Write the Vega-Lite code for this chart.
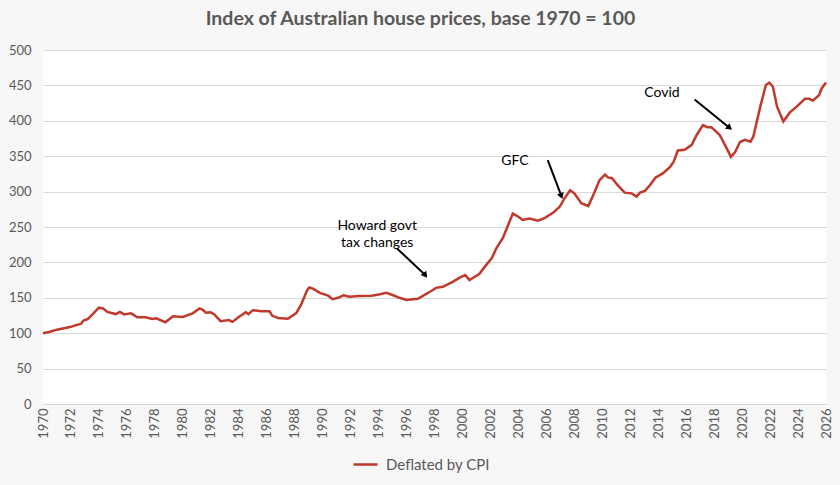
{
  "$schema": "https://vega.github.io/schema/vega-lite/v6.json",
  "autosize": "none",
  "width": 783,
  "height": 354,
  "padding": {"left": 43, "top": 50, "right": 14, "bottom": 81},
  "background": "#f7f7f7",
  "title": {
    "text": "Index of Australian house prices, base 1970 = 100",
    "font": "Lato",
    "fontSize": 19.5,
    "fontWeight": "bold",
    "color": "#595959",
    "anchor": "middle",
    "dx": -14,
    "offset": 15
  },
  "datasets": {
    "prices": [
      {"year": 1970.0, "index": 100, "series": "Deflated by CPI"},
      {"year": 1970.5, "index": 102, "series": "Deflated by CPI"},
      {"year": 1971.0, "index": 105, "series": "Deflated by CPI"},
      {"year": 1971.5, "index": 107, "series": "Deflated by CPI"},
      {"year": 1972.0, "index": 109, "series": "Deflated by CPI"},
      {"year": 1972.3, "index": 111, "series": "Deflated by CPI"},
      {"year": 1972.7, "index": 113, "series": "Deflated by CPI"},
      {"year": 1972.9, "index": 118, "series": "Deflated by CPI"},
      {"year": 1973.2, "index": 120, "series": "Deflated by CPI"},
      {"year": 1973.5, "index": 126, "series": "Deflated by CPI"},
      {"year": 1974.0, "index": 136, "series": "Deflated by CPI"},
      {"year": 1974.3, "index": 135, "series": "Deflated by CPI"},
      {"year": 1974.6, "index": 130, "series": "Deflated by CPI"},
      {"year": 1975.2, "index": 127, "series": "Deflated by CPI"},
      {"year": 1975.5, "index": 130, "series": "Deflated by CPI"},
      {"year": 1975.8, "index": 126.5, "series": "Deflated by CPI"},
      {"year": 1976.3, "index": 128, "series": "Deflated by CPI"},
      {"year": 1976.75, "index": 122.5, "series": "Deflated by CPI"},
      {"year": 1977.35, "index": 122.5, "series": "Deflated by CPI"},
      {"year": 1977.8, "index": 120, "series": "Deflated by CPI"},
      {"year": 1978.1, "index": 121, "series": "Deflated by CPI"},
      {"year": 1978.75, "index": 115.5, "series": "Deflated by CPI"},
      {"year": 1979.3, "index": 124, "series": "Deflated by CPI"},
      {"year": 1980.0, "index": 123, "series": "Deflated by CPI"},
      {"year": 1980.7, "index": 128, "series": "Deflated by CPI"},
      {"year": 1981.2, "index": 135, "series": "Deflated by CPI"},
      {"year": 1981.4, "index": 133.5, "series": "Deflated by CPI"},
      {"year": 1981.65, "index": 129, "series": "Deflated by CPI"},
      {"year": 1982.0, "index": 129.5, "series": "Deflated by CPI"},
      {"year": 1982.25, "index": 126.5, "series": "Deflated by CPI"},
      {"year": 1982.7, "index": 117, "series": "Deflated by CPI"},
      {"year": 1983.3, "index": 118.5, "series": "Deflated by CPI"},
      {"year": 1983.55, "index": 116, "series": "Deflated by CPI"},
      {"year": 1984.0, "index": 123, "series": "Deflated by CPI"},
      {"year": 1984.5, "index": 129.5, "series": "Deflated by CPI"},
      {"year": 1984.7, "index": 127, "series": "Deflated by CPI"},
      {"year": 1985.0, "index": 132.5, "series": "Deflated by CPI"},
      {"year": 1985.6, "index": 131, "series": "Deflated by CPI"},
      {"year": 1986.2, "index": 131, "series": "Deflated by CPI"},
      {"year": 1986.4, "index": 124.5, "series": "Deflated by CPI"},
      {"year": 1986.8, "index": 121.5, "series": "Deflated by CPI"},
      {"year": 1987.5, "index": 120.5, "series": "Deflated by CPI"},
      {"year": 1988.1, "index": 128, "series": "Deflated by CPI"},
      {"year": 1988.45, "index": 140, "series": "Deflated by CPI"},
      {"year": 1988.9, "index": 161, "series": "Deflated by CPI"},
      {"year": 1989.05, "index": 164.5, "series": "Deflated by CPI"},
      {"year": 1989.3, "index": 163, "series": "Deflated by CPI"},
      {"year": 1989.8, "index": 157, "series": "Deflated by CPI"},
      {"year": 1990.4, "index": 153, "series": "Deflated by CPI"},
      {"year": 1990.7, "index": 148, "series": "Deflated by CPI"},
      {"year": 1991.1, "index": 150, "series": "Deflated by CPI"},
      {"year": 1991.5, "index": 153.5, "series": "Deflated by CPI"},
      {"year": 1991.9, "index": 151.5, "series": "Deflated by CPI"},
      {"year": 1992.6, "index": 152.5, "series": "Deflated by CPI"},
      {"year": 1993.5, "index": 153, "series": "Deflated by CPI"},
      {"year": 1994.1, "index": 155, "series": "Deflated by CPI"},
      {"year": 1994.55, "index": 157, "series": "Deflated by CPI"},
      {"year": 1995.0, "index": 154, "series": "Deflated by CPI"},
      {"year": 1995.5, "index": 150, "series": "Deflated by CPI"},
      {"year": 1996.0, "index": 147, "series": "Deflated by CPI"},
      {"year": 1996.8, "index": 148.5, "series": "Deflated by CPI"},
      {"year": 1997.2, "index": 153, "series": "Deflated by CPI"},
      {"year": 1997.8, "index": 160, "series": "Deflated by CPI"},
      {"year": 1998.1, "index": 164, "series": "Deflated by CPI"},
      {"year": 1998.6, "index": 165.5, "series": "Deflated by CPI"},
      {"year": 1999.3, "index": 172.5, "series": "Deflated by CPI"},
      {"year": 1999.8, "index": 178.5, "series": "Deflated by CPI"},
      {"year": 2000.2, "index": 182, "series": "Deflated by CPI"},
      {"year": 2000.5, "index": 175, "series": "Deflated by CPI"},
      {"year": 2000.9, "index": 180, "series": "Deflated by CPI"},
      {"year": 2001.2, "index": 183.5, "series": "Deflated by CPI"},
      {"year": 2001.6, "index": 194, "series": "Deflated by CPI"},
      {"year": 2002.1, "index": 206, "series": "Deflated by CPI"},
      {"year": 2002.4, "index": 219, "series": "Deflated by CPI"},
      {"year": 2002.9, "index": 235, "series": "Deflated by CPI"},
      {"year": 2003.6, "index": 269, "series": "Deflated by CPI"},
      {"year": 2004.0, "index": 264.5, "series": "Deflated by CPI"},
      {"year": 2004.3, "index": 260, "series": "Deflated by CPI"},
      {"year": 2004.8, "index": 262, "series": "Deflated by CPI"},
      {"year": 2005.4, "index": 259, "series": "Deflated by CPI"},
      {"year": 2005.9, "index": 263, "series": "Deflated by CPI"},
      {"year": 2006.5, "index": 270.5, "series": "Deflated by CPI"},
      {"year": 2006.95, "index": 278.5, "series": "Deflated by CPI"},
      {"year": 2007.3, "index": 290.5, "series": "Deflated by CPI"},
      {"year": 2007.7, "index": 302, "series": "Deflated by CPI"},
      {"year": 2008.0, "index": 297.5, "series": "Deflated by CPI"},
      {"year": 2008.5, "index": 283.5, "series": "Deflated by CPI"},
      {"year": 2009.0, "index": 279.5, "series": "Deflated by CPI"},
      {"year": 2009.35, "index": 295, "series": "Deflated by CPI"},
      {"year": 2009.8, "index": 316, "series": "Deflated by CPI"},
      {"year": 2010.2, "index": 324, "series": "Deflated by CPI"},
      {"year": 2010.4, "index": 320, "series": "Deflated by CPI"},
      {"year": 2010.7, "index": 319, "series": "Deflated by CPI"},
      {"year": 2011.1, "index": 309, "series": "Deflated by CPI"},
      {"year": 2011.6, "index": 298.5, "series": "Deflated by CPI"},
      {"year": 2012.1, "index": 297.5, "series": "Deflated by CPI"},
      {"year": 2012.45, "index": 293, "series": "Deflated by CPI"},
      {"year": 2012.7, "index": 298.5, "series": "Deflated by CPI"},
      {"year": 2013.05, "index": 301, "series": "Deflated by CPI"},
      {"year": 2013.4, "index": 309, "series": "Deflated by CPI"},
      {"year": 2013.8, "index": 319.5, "series": "Deflated by CPI"},
      {"year": 2014.35, "index": 326, "series": "Deflated by CPI"},
      {"year": 2014.85, "index": 335, "series": "Deflated by CPI"},
      {"year": 2015.1, "index": 342, "series": "Deflated by CPI"},
      {"year": 2015.4, "index": 358, "series": "Deflated by CPI"},
      {"year": 2015.9, "index": 359, "series": "Deflated by CPI"},
      {"year": 2016.4, "index": 366, "series": "Deflated by CPI"},
      {"year": 2016.75, "index": 380, "series": "Deflated by CPI"},
      {"year": 2017.2, "index": 394, "series": "Deflated by CPI"},
      {"year": 2017.5, "index": 391, "series": "Deflated by CPI"},
      {"year": 2017.8, "index": 391, "series": "Deflated by CPI"},
      {"year": 2018.4, "index": 380, "series": "Deflated by CPI"},
      {"year": 2018.9, "index": 361, "series": "Deflated by CPI"},
      {"year": 2019.2, "index": 349, "series": "Deflated by CPI"},
      {"year": 2019.5, "index": 356, "series": "Deflated by CPI"},
      {"year": 2019.85, "index": 370, "series": "Deflated by CPI"},
      {"year": 2020.2, "index": 373, "series": "Deflated by CPI"},
      {"year": 2020.6, "index": 370.5, "series": "Deflated by CPI"},
      {"year": 2020.8, "index": 377.5, "series": "Deflated by CPI"},
      {"year": 2021.3, "index": 420, "series": "Deflated by CPI"},
      {"year": 2021.7, "index": 450.5, "series": "Deflated by CPI"},
      {"year": 2021.95, "index": 454, "series": "Deflated by CPI"},
      {"year": 2022.2, "index": 448, "series": "Deflated by CPI"},
      {"year": 2022.5, "index": 420, "series": "Deflated by CPI"},
      {"year": 2022.95, "index": 399, "series": "Deflated by CPI"},
      {"year": 2023.4, "index": 411.5, "series": "Deflated by CPI"},
      {"year": 2023.9, "index": 420, "series": "Deflated by CPI"},
      {"year": 2024.5, "index": 431, "series": "Deflated by CPI"},
      {"year": 2024.8, "index": 431, "series": "Deflated by CPI"},
      {"year": 2025.06, "index": 428.5, "series": "Deflated by CPI"},
      {"year": 2025.5, "index": 436, "series": "Deflated by CPI"},
      {"year": 2025.7, "index": 446, "series": "Deflated by CPI"},
      {"year": 2026.0, "index": 454, "series": "Deflated by CPI"}
    ],
    "notes": [
      {"label": "Howard govt\ntax changes", "tx": 1993.9, "ty": 251, "ax": 1995.3, "ay": 220, "hx": 1997.3, "hy": 183, "heading": 143},
      {"label": "GFC", "tx": 2003.75, "ty": 343, "ax": 2006.1, "ay": 344.5, "hx": 2007.05, "hy": 295, "heading": 160},
      {"label": "Covid", "tx": 2014.27, "ty": 439, "ax": 2016.6, "ay": 430, "hx": 2019.05, "hy": 391, "heading": 129}
    ]
  },
  "encoding": {
    "x": {
      "type": "quantitative",
      "scale": {"domain": [1970, 2026], "nice": false, "zero": false},
      "axis": {
        "title": null,
        "values": [1970, 1972, 1974, 1976, 1978, 1980, 1982, 1984, 1986, 1988, 1990, 1992, 1994, 1996, 1998, 2000, 2002, 2004, 2006, 2008, 2010, 2012, 2014, 2016, 2018, 2020, 2022, 2024, 2026],
        "format": "d",
        "labelAngle": 270,
        "labelPadding": 4,
        "ticks": false,
        "grid": false,
        "domainColor": "#d9d9d9",
        "labelFlush": false,
        "labelOverlap": false
      }
    },
    "y": {
      "type": "quantitative",
      "scale": {"domain": [0, 500], "nice": false},
      "axis": {
        "title": null,
        "values": [0, 50, 100, 150, 200, 250, 300, 350, 400, 450, 500],
        "ticks": false,
        "domain": false,
        "labelPadding": 12,
        "gridColor": "#d9d9d9"
      }
    }
  },
  "layer": [
    {
      "data": {"name": "prices"},
      "mark": {"type": "line", "strokeWidth": 2.5},
      "encoding": {
        "x": {"field": "year", "type": "quantitative"},
        "y": {"field": "index", "type": "quantitative"},
        "color": {
          "field": "series",
          "type": "nominal",
          "scale": {"range": ["#c0392b"]},
          "legend": {
            "title": null,
            "orient": "none",
            "legendX": 309,
            "legendY": 401,
            "symbolType": "stroke",
            "symbolStrokeWidth": 2.5,
            "symbolSize": 576,
            "labelOffset": 7,
            "labelFontSize": 15,
            "labelColor": "#595959",
            "labelFont": "Lato"
          }
        }
      }
    },
    {
      "data": {"name": "notes"},
      "mark": {"type": "rule", "color": "black", "strokeWidth": 2},
      "encoding": {
        "x": {"field": "ax", "type": "quantitative"},
        "y": {"field": "ay", "type": "quantitative"},
        "x2": {"field": "hx"},
        "y2": {"field": "hy"}
      }
    },
    {
      "data": {"name": "notes"},
      "mark": {"type": "point", "shape": "triangle", "filled": true, "color": "black", "size": 50, "opacity": 1},
      "encoding": {
        "x": {"field": "hx", "type": "quantitative"},
        "y": {"field": "hy", "type": "quantitative"},
        "angle": {"field": "heading", "type": "quantitative", "scale": null}
      }
    },
    {
      "data": {"name": "notes"},
      "mark": {"type": "text", "font": "Lato", "fontSize": 14, "color": "black", "align": "center", "baseline": "middle", "lineBreak": "\n", "lineHeight": 17},
      "encoding": {
        "x": {"field": "tx", "type": "quantitative"},
        "y": {"field": "ty", "type": "quantitative"},
        "text": {"field": "label", "type": "nominal"}
      }
    }
  ],
  "config": {
    "view": {"fill": "white", "stroke": null},
    "axis": {"labelFont": "Lato", "labelFontSize": 13, "labelColor": "#595959"}
  }
}
